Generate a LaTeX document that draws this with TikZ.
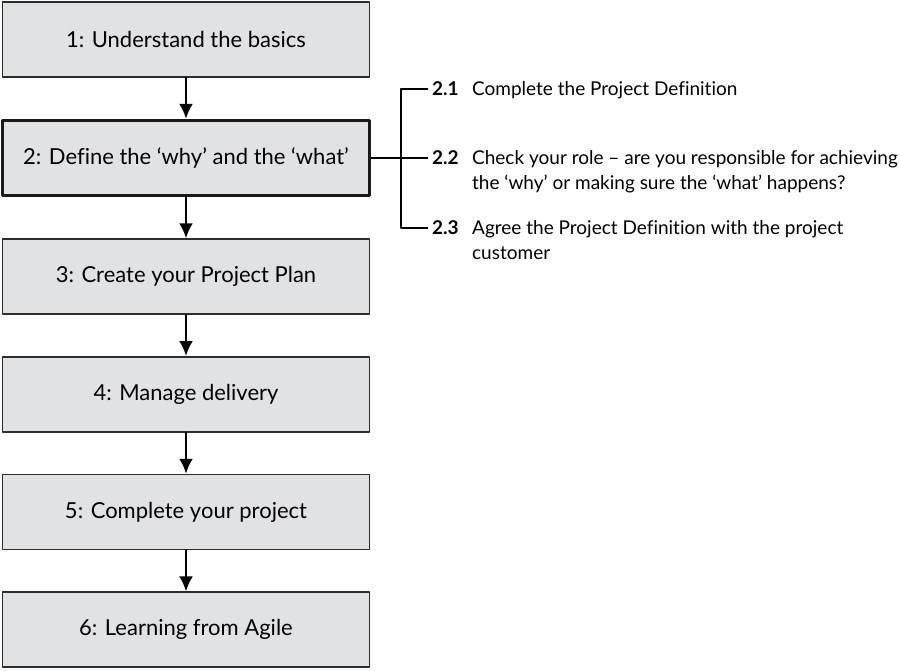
\documentclass[tikz,border=0pt]{standalone}
\usepackage{fontspec}
\setmainfont{Lato}[Ligatures={NoCommon,TeX}]
\usepackage{xcolor}
\usetikzlibrary{arrows.meta}
\usetikzlibrary{positioning}
\definecolor{boxgray}{RGB}{225,226,228}
\definecolor{edgegray}{RGB}{45,45,45}
\tikzset{
  stepbox/.style={draw=edgegray, fill=boxgray, line width=1.7pt,
    minimum width=367pt, minimum height=75pt, inner sep=0pt,
    font=\fontsize{22pt}{26pt}\selectfont},
  activebox/.style={stepbox, draw=black!90, line width=3.5pt},
  flow/.style={line width=2.6pt, -{Latex[length=15pt, width=14pt]}},
  bracket/.style={line width=2.6pt, line cap=butt},
  subnum/.style={inner xsep=4pt, inner ysep=0pt, anchor=west,
    font=\fontsize{19pt}{24pt}\selectfont\bfseries},
  subtext/.style={inner sep=0pt, anchor=base west,
    font=\fontsize{19pt}{24.5pt}\selectfont},
}
\begin{document}
\begin{tikzpicture}[line cap=round,line join=round, x=1pt,y=-1pt]
\useasboundingbox (0,0) rectangle (900,670);
\node[stepbox] (s1) at (186,39.5) {1: Understand the basics};
\node[activebox, below=41pt of s1] (s2) {2: Define the ‘why’ and the ‘what’};
\node[stepbox, below=41pt of s2] (s3) {3: Create your Project Plan};
\node[stepbox, below=41pt of s3] (s4) {4: Manage delivery};
\node[stepbox, below=41pt of s4] (s5) {5: Complete your project};
\node[stepbox, below=41pt of s5] (s6) {6: Learning from Agile};
\foreach \a/\b in {s1/s2,s2/s3,s3/s4,s4/s5,s5/s6}
  \draw [flow] (\a) -- (\b);
% sub-steps of step 2
\coordinate (jx) at (401,0);
\coordinate (j) at (jx |- s2.east);
\node[subnum] (n21) at ([shift={(27,-69)}]j) {2.1};
\node[subnum] (n22) at ([shift={(27,0)}]j) {2.2};
\node[subnum] (n23) at ([shift={(27,70)}]j) {2.3};
\node[subtext] (t21) at ([xshift=9pt]n21.base east) {Complete the Project Definition};
\node[subtext] (t22) at ([xshift=9pt]n22.base east) {\parbox[t]{440pt}{\raggedright Check your role -- are you responsible for achieving\\the ‘why’ or making sure the ‘what’ happens?}};
\node[subtext] (t23) at ([xshift=9pt]n23.base east) {\parbox[t]{440pt}{\raggedright Agree the Project Definition with the project\\customer}};
\draw [bracket] (n21.west) -| (j) |- (n23.west);
\draw [bracket] (s2.east) -- (n22.west);
\end{tikzpicture}
\end{document}
